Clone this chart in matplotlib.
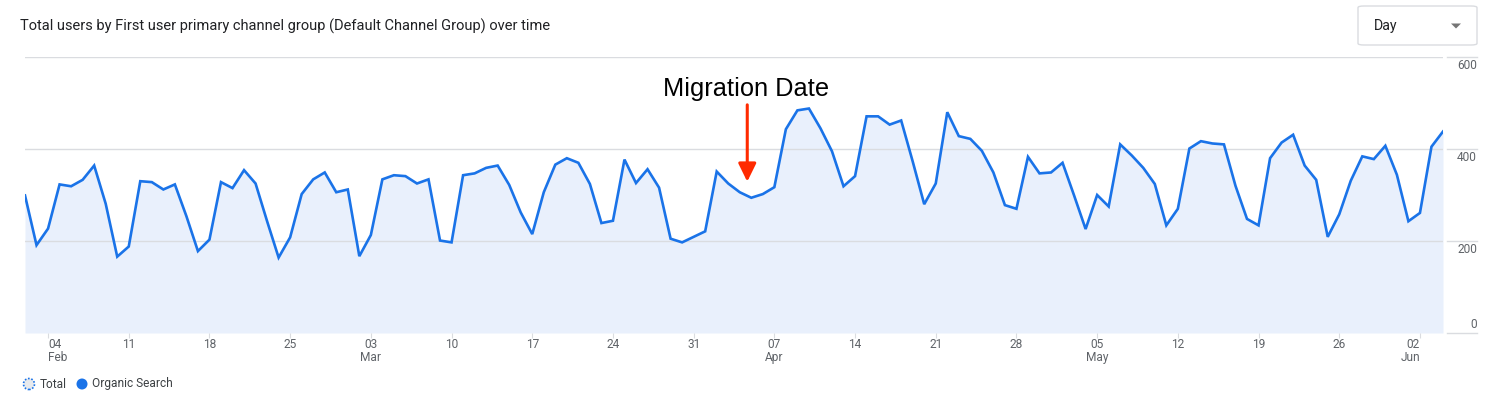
import matplotlib
matplotlib.use("Agg")
import matplotlib.pyplot as plt
import matplotlib.dates as mdates
from matplotlib.patches import Circle, FancyBboxPatch, Polygon
import pandas as pd

# daily users, Organic Search, 2024-02-02 .. 2024-06-04
start_date = "2024-02-02"
end_date = "2024-06-04"
users = [
    299, 191, 227, 323, 319, 333, 364, 281, 166, 188, 330, 328, 312, 323, 254, 178,
    203, 328, 315, 354, 325, 243, 164, 208, 302, 334, 349, 306, 312, 167, 213,
    334, 343, 341, 325, 334, 201, 197, 343, 347, 359, 364, 322, 262, 215, 306,
    366, 380, 370, 324, 239, 244, 377, 326, 356, 316, 205, 197, 209, 221, 351,
    325, 306,
    294, 302, 317, 443, 484, 488, 445, 395, 319, 341, 471, 471, 453, 462, 373,
    280, 325, 480, 428, 422, 396, 349, 278, 270, 383, 347, 349, 370, 299, 226,
    300, 275,
    410, 386, 359, 324, 234, 270, 401, 417, 412, 410, 320, 248, 234, 380, 414,
    431, 364, 333, 209, 258, 331, 384, 378, 407, 344, 243, 261, 405, 438,
]
tick_dates = ["2024-02-04", "2024-02-11", "2024-02-18", "2024-02-25", "2024-03-03",
              "2024-03-10", "2024-03-17", "2024-03-24", "2024-03-31", "2024-04-07",
              "2024-04-14", "2024-04-21", "2024-04-28", "2024-05-05", "2024-05-12",
              "2024-05-19", "2024-05-26", "2024-06-02"]
tick_labels = ["04\nFeb", "11", "18", "25", "03\nMar", "10", "17", "24", "31",
               "07\nApr", "14", "21", "28", "05\nMay", "12", "19", "26", "02\nJun"]
y_ticks = [0, 200, 400, 600]

dates = pd.date_range(start_date, end_date, freq="D")

W, H = 1496, 399
fig = plt.figure(figsize=(W / 100, H / 100), dpi=100)
ax = fig.add_axes([25 / W, (H - 333) / H, (1443 - 25) / W, (333 - 57) / H])

blue = "#1a73e8"
grid = "#dadce0"
txt = "#5f6368"

ax.fill_between(dates, users, 0, color="#e9f0fc", lw=0, zorder=1)
for v in y_ticks:
    if v > 0:
        ax.axhline(v, color=grid, lw=1, zorder=2)
    ax.plot([1 + 4 / 1418, 1 + 34 / 1418], [v, v], color=grid, lw=1,
            transform=ax.get_yaxis_transform(), clip_on=False)
    off = 6 if v == 0 else -6
    ax.annotate(str(v), xy=(1, v), xycoords=("axes fraction", "data"),
                xytext=(34 * 0.72, off), textcoords="offset points",
                ha="right", va="center", fontsize=8.6, color=txt, family="Roboto")
ax.plot(dates, users, color=blue, lw=1.9, zorder=3, solid_joinstyle="miter")

ax.set_xlim(dates[0], dates[-1])
ax.set_ylim(0, 600)
ax.set_yticks([])
for s in ax.spines.values():
    s.set_visible(False)

ax.set_xticks(pd.to_datetime(tick_dates))
ax.set_xticklabels(tick_labels, fontsize=8.6, color=txt, family="Roboto",
                   linespacing=0.95)
ax.tick_params(axis="x", length=3.6, color=grid, pad=0.3)
labels = ax.get_xticklabels()
labels[0].set_ha("left")
labels[-1].set_ha("right")

# migration annotation
arrow_x = mdates.date2num(pd.Timestamp("2024-04-04")) + 0.65
ax.annotate("", xy=(arrow_x, 329), xytext=(arrow_x, 496),
            arrowprops=dict(arrowstyle="-|>,head_length=0.55,head_width=0.27",
                            color="#ff2a00", lw=2.2, mutation_scale=20,
                            shrinkA=0, shrinkB=0), zorder=5)
ax.text(arrow_x - 0.1, 516, "Migration Date", fontsize=18.3, ha="center",
        va="baseline", family="Liberation Sans", color="black", zorder=5)

# header
fig.text(20 / W, 1 - 26 / H, "Total users by First user primary channel group "
         "(Default Channel Group) over time", fontsize=10.5, color="#202124",
         family="Roboto", va="center")
box = FancyBboxPatch((1358 / W, 1 - 45 / H), 119 / W, 39 / H,
                     boxstyle="round,pad=0,rounding_size=0.004",
                     transform=fig.transFigure, facecolor="white",
                     edgecolor="#dadce0", lw=1)
fig.add_artist(box)
fig.text(1374 / W, 1 - 26 / H, "Day", fontsize=10.2, color="#202124",
         family="Roboto", va="center")
tri_y = (H - 26) / 100
fig.add_artist(Polygon([(14.51, tri_y + 0.025), (14.61, tri_y + 0.025),
                        (14.56, tri_y - 0.025)], closed=True,
                       transform=fig.dpi_scale_trans, color="#757575", lw=0))

# legend
ly = (H - 384) / 100
fig.add_artist(Circle((29 / 100, ly), 0.055, transform=fig.dpi_scale_trans,
                      facecolor="#e8eaed", edgecolor=blue, lw=1.2, ls=(0, (1, 1))))
fig.text(40 / W, ly * 100 / H, "Total", fontsize=8.6, color="#3c4043",
         family="Roboto", va="center")
fig.add_artist(Circle((82 / 100, ly), 0.055, transform=fig.dpi_scale_trans,
                      facecolor=blue, edgecolor="none"))
fig.text(92 / W, ly * 100 / H, "Organic Search", fontsize=8.6, color="#3c4043",
         family="Roboto", va="center")

fig.savefig("out.png", dpi=100)
